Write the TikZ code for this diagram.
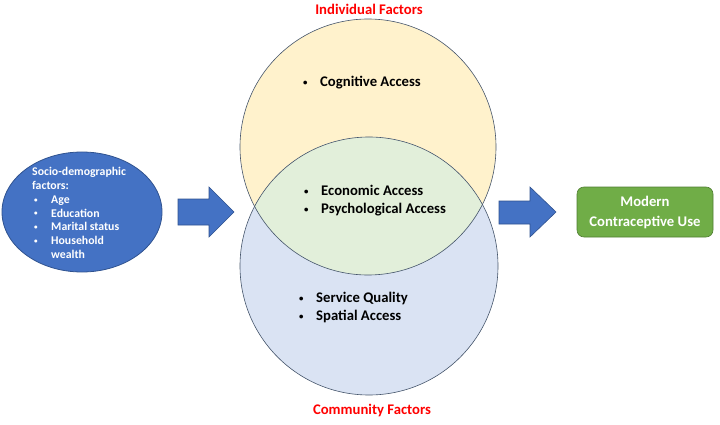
\documentclass[tikz,border=0pt]{standalone}
\usepackage{fontspec}
\setmainfont{Carlito}
\usetikzlibrary{positioning,shapes.geometric}

\definecolor{indfill}{HTML}{FFF2CC}
\definecolor{comfill}{HTML}{DAE3F3}
\definecolor{lensfill}{HTML}{E2EFDA}
\definecolor{vennline}{HTML}{44546A}
\definecolor{sociblue}{HTML}{4472C4}
\definecolor{socedge}{HTML}{2F528F}
\definecolor{usegreen}{HTML}{70AD47}
\definecolor{useedge}{HTML}{507E32}
\definecolor{factorred}{HTML}{FF0000}

\newcommand{\dotmark}{\raisebox{0.2ex}{\scalebox{0.6}{\textbullet}}}
\newcommand{\vbullet}{\makebox[18pt][l]{\hspace{1pt}\dotmark}}

\begin{document}
\begin{tikzpicture}[x=1pt,y=-1pt,
  venn/.style={draw=vennline,line width=0.6pt},
  blockarrow/.style={fill=sociblue,draw=socedge,line width=0.6pt},
  bodytext/.style={font=\fontsize{14.7}{18}\selectfont\bfseries,align=left,inner sep=0pt,anchor=west},
  heading/.style={font=\fontsize{14.7}{18}\selectfont\bfseries,text=factorred,inner sep=0pt}]
  \useasboundingbox (0,0) rectangle (720,425);

  % Venn: individual (top) and community (bottom)
  \coordinate (ind) at (368,147);
  \coordinate (com) at (369,266);
  \fill[indfill] (ind) circle[radius=128pt];
  \fill[comfill] (com) circle[radius=129pt];
  \begin{scope}
    \clip (ind) circle[radius=128pt];
    \fill[lensfill] (com) circle[radius=129pt];
  \end{scope}
  \draw[venn] (ind) circle[radius=128pt];
  \draw[venn] (com) circle[radius=129pt];

  \node[heading] (indlabel) at (369,9) {Individual Factors};
  \node[heading] (comlabel) at (372,410) {Community Factors};

  \node[bodytext] (cog) at (302,83) {\vbullet Cognitive Access};
  \node[bodytext] (econ) at (303,201) {\vbullet Economic Access\\\vbullet Psychological Access};
  \node[bodytext] (serv) at (298,307.5) {\vbullet Service Quality\\\vbullet Spatial Access};

  % Socio-demographic factors
  \node[ellipse,fill=sociblue,draw=socedge,line width=0.8pt,
        minimum width=160pt,minimum height=120pt,inner sep=0pt] (socio) at (82,212) {};
  \node[bodytext,text=white,font=\fontsize{11.8}{13.7}\selectfont\bfseries] (sociotext) at (32,213)
    {Socio-demographic\\factors:\\
     \makebox[19pt][l]{\hspace{2pt}\dotmark}Age\\
     \makebox[19pt][l]{\hspace{2pt}\dotmark}Education\\
     \makebox[19pt][l]{\hspace{2pt}\dotmark}Marital status\\
     \makebox[19pt][l]{\hspace{2pt}\dotmark}Household\\
     \hspace*{19pt}wealth};

  % Block arrows
  \draw[blockarrow] (178,199) -- (209,199) -- (209,187) -- (234,212)
    -- (209,237) -- (209,225) -- (178,225) -- cycle;
  \draw[blockarrow] (499,201) -- (530,201) -- (530,187) -- (556,212)
    -- (530,237) -- (530,224) -- (499,224) -- cycle;

  % Outcome
  \node[draw=useedge,fill=usegreen,rounded corners=7pt,line width=0.6pt,
        minimum width=136pt,minimum height=50pt,inner sep=0pt,align=center,
        text=white,font=\fontsize{14.7}{20}\selectfont\bfseries] (use) at (645,212)
    {Modern\\Contraceptive Use};
\end{tikzpicture}
\end{document}
